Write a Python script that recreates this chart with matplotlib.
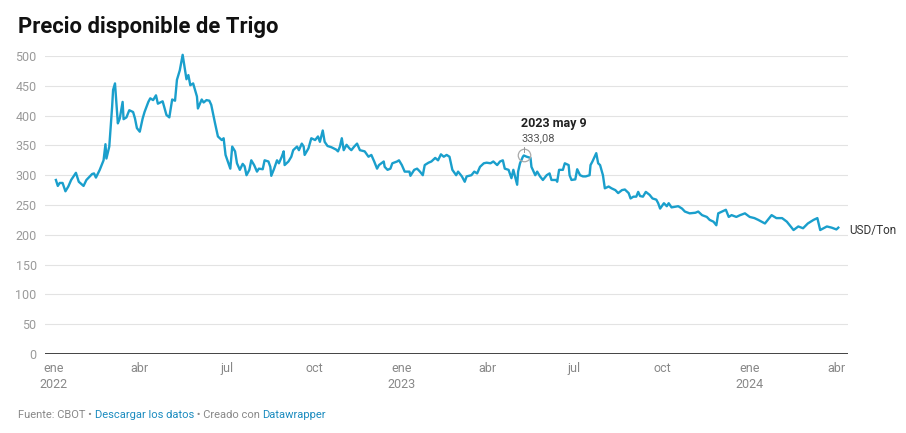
import matplotlib
matplotlib.use("Agg")
import matplotlib.pyplot as plt
import pandas as pd
import numpy as np

plt.rcParams['font.family'] = ['Roboto', 'DejaVu Sans']

# days since 2022-01-01 and price (USD/Ton)
day = [2, 4, 6, 9, 12, 15, 18, 23, 26, 31, 34, 40, 42, 44, 48, 52, 54, 55, 58, 61,
       62, 64, 67, 69, 72, 73, 76, 79, 83, 85, 87, 90, 93, 95, 99, 101, 104, 107, 109, 114,
       118, 121, 124, 127, 129, 132, 135, 139, 141, 143, 146, 150, 151, 155, 157, 160, 163, 165, 169, 172,
       176, 178, 180, 185, 187, 190, 192, 195, 198, 200, 202, 205, 207, 210, 213, 215, 219, 221, 225, 227,
       228, 231, 234, 236, 239, 241, 242, 246, 249, 251, 255, 257, 260, 262, 263, 267, 270, 274, 277, 279,
       282, 284, 287, 291, 296, 298, 300, 302, 304, 307, 310, 312, 315, 318, 321, 326, 330, 333, 336, 339,
       341, 346, 347, 350, 353, 355, 360, 362, 365, 368, 373, 374, 378, 381, 384, 387, 389, 393, 396, 400,
       403, 406, 409, 412, 415, 418, 422, 424, 428, 431, 433, 438, 441, 444, 447, 451, 454, 458, 461, 465,
       468, 471, 473, 477, 480, 482, 486, 487, 489, 492, 493, 496, 500, 501, 505, 507, 510, 513, 517, 520,
       522, 527, 528, 530, 534, 536, 540, 541, 543, 547, 549, 552, 555, 558, 562, 563, 565, 569, 571, 573,
       576, 578, 582, 585, 589, 592, 596, 599, 603, 605, 608, 611, 613, 615, 618, 621, 625, 628, 632, 634,
       636, 640, 643, 645, 648, 655, 659, 662, 667, 673, 676, 680, 685, 688, 692, 695, 697, 701, 705, 708,
       711, 716, 720, 725, 730, 735, 739, 746, 753, 758, 764, 769, 776, 781, 786, 791, 797, 801, 804, 811,
       816, 821, 823]
price = [292, 282, 287, 287, 273, 281, 292, 304, 289, 282, 292, 302, 303, 296, 309, 325, 352, 328, 348, 415,
         443, 454, 387, 395, 423, 394, 397, 409, 406, 395, 379, 373, 395, 406, 423, 429, 426, 434, 420, 424,
         401, 397, 427, 425, 460, 476, 502, 461, 468, 451, 454, 432, 412, 427, 422, 426, 425, 418, 387, 365,
         359, 362, 334, 311, 348, 340, 320, 309, 319, 315, 300, 309, 325, 317, 306, 311, 310, 325, 323, 314,
         299, 311, 325, 320, 331, 340, 317, 323, 331, 342, 348, 342, 353, 348, 334, 345, 362, 359, 365, 356,
         375, 356, 349, 347, 343, 340, 348, 362, 342, 351, 345, 342, 348, 353, 342, 340, 331, 334, 323, 311,
         317, 323, 314, 309, 311, 320, 323, 325, 317, 306, 306, 299, 309, 311, 306, 300, 317, 321, 323, 329,
         325, 335, 331, 334, 331, 309, 300, 306, 298, 289, 298, 300, 306, 303, 314, 320, 321, 320, 323, 317,
         323, 325, 311, 309, 295, 309, 284, 306, 320, 331, 333.08, 331, 329, 314, 300, 306, 298, 292, 300, 303,
         292, 292, 289, 309, 309, 320, 317, 300, 292, 293, 310, 300, 298, 298, 300, 317, 323, 337, 320, 317,
         300, 278, 281, 278, 275, 270, 275, 276, 270, 261, 264, 264, 272, 265, 264, 272, 267, 261, 259, 253,
         244, 253, 248, 253, 246, 248, 244, 239, 236, 237, 239, 233, 230, 225, 222, 216, 236, 239, 242, 230,
         233, 230, 233, 236, 230, 228, 225, 219, 233, 228, 228, 222, 208, 214, 211, 219, 225, 228, 208, 214,
         212, 209, 212]

y_ticks = [0, 50, 100, 150, 200, 250, 300, 350, 400, 450, 500]
x_tick_dates = ["2022-01-01", "2022-04-01", "2022-07-01", "2022-10-01", "2023-01-01",
                "2023-04-01", "2023-07-01", "2023-10-01", "2024-01-01", "2024-04-01"]
x_tick_labels = ["ene\n2022", "abr", "jul", "oct", "ene\n2023", "abr", "jul", "oct", "ene\n2024", "abr"]
annot_date = "2023-05-09"
annot_value = 333.08

dates = pd.Timestamp("2022-01-01") + pd.to_timedelta(day, unit="D")

W, H = 906, 433
fig = plt.figure(figsize=(W / 100, H / 100), dpi=100)
ax = fig.add_axes([45 / W, (H - 354) / H, (848 - 45) / W, (354 - 56) / H])

line_color = "#1a9fcc"
ax.plot(dates, price, color=line_color, lw=1.7, solid_joinstyle="round", clip_on=False, zorder=3)

x0 = pd.Timestamp("2022-01-01") - pd.Timedelta(days=(54 - 45) / 0.953)
x1 = pd.Timestamp("2022-01-01") + pd.Timedelta(days=(848 - 54) / 0.953)
ax.set_xlim(x0, x1)
ax.set_ylim(0, 500)

for s in ax.spines.values():
    s.set_visible(False)
for v in y_ticks[1:]:
    ax.axhline(v, color="#e3e3e3", lw=0.8, zorder=1)
ax.axhline(0, color="#222222", lw=1.2, zorder=4)

ax.set_yticks(y_ticks)
ax.set_yticklabels([str(v) for v in y_ticks])
ax.tick_params(axis="y", length=0, pad=6, labelsize=9, labelcolor="#9a9a9a")
ax.set_xticks(pd.to_datetime(x_tick_dates))
ax.set_xticklabels(x_tick_labels, linespacing=1.25)
ax.tick_params(axis="x", length=0, pad=6, labelsize=9, labelcolor="#888888")

# annotation
ad = pd.Timestamp(annot_date)
ax.plot([ad], [annot_value], marker="o", ms=9, mfc="none", mec="#aaaaaa", mew=0.9, zorder=5)
ax.plot([ad, ad], [annot_value + 6, annot_value + 15], color="#999999", lw=0.7, zorder=5)
ax.annotate("2023 may 9", xy=(ad, annot_value), xytext=(-2, 23), textcoords="offset points",
            ha="left", va="center", fontsize=9, fontweight="bold", color="#222222")
ax.annotate("333,08", xy=(ad, annot_value), xytext=(-2, 12.5), textcoords="offset points",
            ha="left", va="center", fontsize=8, color="#555555")

# unit label
ax.annotate("USD/Ton", xy=(1, 207), xycoords=("axes fraction", "data"), xytext=(1, 0),
            textcoords="offset points", ha="left", va="center", fontsize=8.5, color="#333333")

# title
fig.text(18 / W, 1 - 27 / H, "Precio disponible de Trigo", fontsize=15.8, fontweight="bold",
         color="#111111", ha="left", va="center")

# footer with colored parts
parts = [("Fuente: CBOT • ", "#888888"), ("Descargar los datos", "#1a8bbf"),
         (" • Creado con ", "#888888"), ("Datawrapper", "#1a8bbf")]
fig.canvas.draw()
renderer = fig.canvas.get_renderer()
xpix = 18
for txt, col in parts:
    t = fig.text(xpix / W, 1 - 415 / H, txt, fontsize=8, color=col, ha="left", va="center")
    bb = t.get_window_extent(renderer=renderer)
    xpix += bb.width

fig.savefig("out.png", dpi=100)
